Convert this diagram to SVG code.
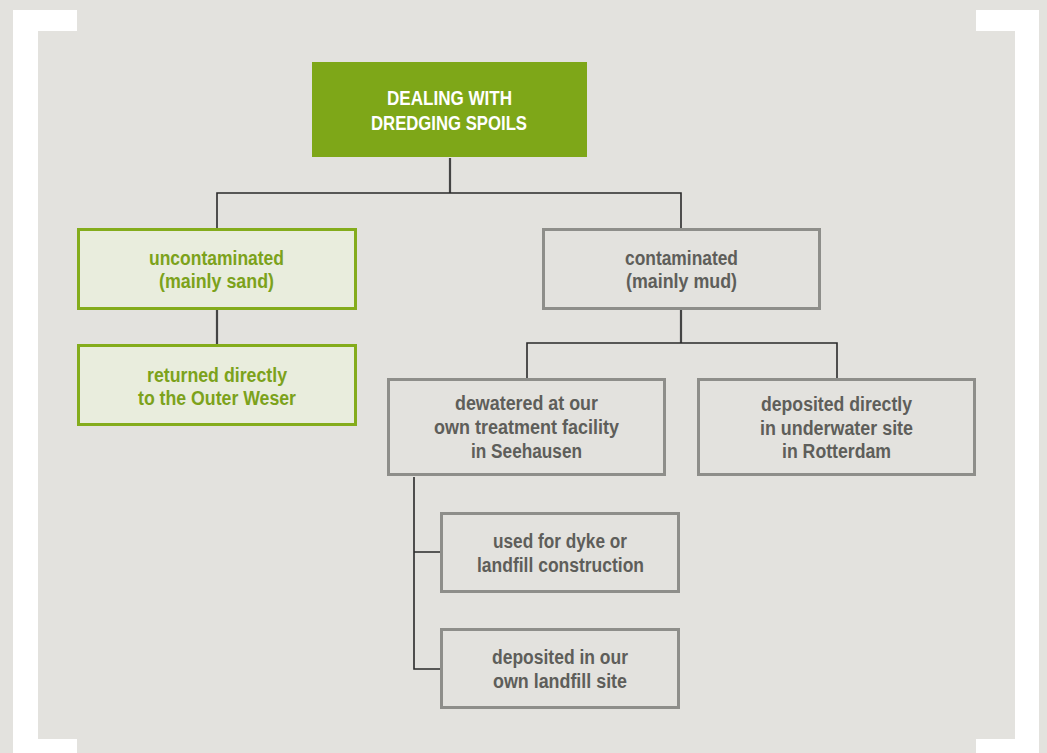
<svg xmlns="http://www.w3.org/2000/svg" width="1047" height="753" viewBox="0 0 1047 753">
<style>
.t{font-family:"Liberation Sans",Arial,sans-serif;font-size:20px;font-weight:bold;text-anchor:middle}
.tw{fill:#ffffff}
.tg{fill:#7CA21B}
.tk{fill:#5E5E5A}
.ng{fill:#E9EDDD;stroke:#84AC1C;stroke-width:3}
.nk{fill:#E3E2DE;stroke:#8E8E8A;stroke-width:3}
.c{fill:none;stroke:#2a2a2a;stroke-width:1.6}
.cv{fill:none;stroke:#444;stroke-width:2.2}
</style>
<rect x="0" y="0" width="1047" height="753" fill="#E3E2DE"/>
<g id="frame" fill="#ffffff">
<path d="M13 10H77V31H38V739H77V753H13Z"/>
<path d="M1039 10H976V31H1015V739H976V753H1039Z"/>
</g>
<g id="connectors">
<path class="cv" d="M450 158V193"/>
<path class="c" d="M217 228V193H681V228"/>
<path class="cv" d="M217 310V344"/>
<path class="cv" d="M681 310V343"/>
<path class="c" d="M527 378V343H837V378"/>
<path class="c" d="M414 477V669H441M414 552H441"/>
</g>
<g id="root">
<rect x="312" y="62" width="275" height="95" fill="#7EA718"/>
<text class="t tw" x="449.5" y="105" textLength="125" lengthAdjust="spacingAndGlyphs">DEALING WITH</text>
<text class="t tw" x="449" y="130" textLength="156" lengthAdjust="spacingAndGlyphs">DREDGING SPOILS</text>
</g>
<g id="uncontaminated">
<rect class="ng" x="78.5" y="229.5" width="277" height="79"/>
<text class="t tg" x="216.5" y="265" textLength="135" lengthAdjust="spacingAndGlyphs">uncontaminated</text>
<text class="t tg" x="216.5" y="288" textLength="115" lengthAdjust="spacingAndGlyphs">(mainly sand)</text>
</g>
<g id="returned">
<rect class="ng" x="78.5" y="345.5" width="277" height="79"/>
<text class="t tg" x="217" y="382" textLength="140" lengthAdjust="spacingAndGlyphs">returned directly</text>
<text class="t tg" x="217" y="405" textLength="158" lengthAdjust="spacingAndGlyphs">to the Outer Weser</text>
</g>
<g id="contaminated">
<rect class="nk" x="543.5" y="229.5" width="276" height="79"/>
<text class="t tk" x="681.5" y="265" textLength="113" lengthAdjust="spacingAndGlyphs">contaminated</text>
<text class="t tk" x="681.5" y="288" textLength="111" lengthAdjust="spacingAndGlyphs">(mainly mud)</text>
</g>
<g id="dewatered">
<rect class="nk" x="388.5" y="379.5" width="276" height="95"/>
<text class="t tk" x="526.5" y="410" textLength="143" lengthAdjust="spacingAndGlyphs">dewatered at our</text>
<text class="t tk" x="526.5" y="434" textLength="185" lengthAdjust="spacingAndGlyphs">own treatment facility</text>
<text class="t tk" x="526.5" y="458" textLength="111" lengthAdjust="spacingAndGlyphs">in Seehausen</text>
</g>
<g id="rotterdam">
<rect class="nk" x="698.5" y="379.5" width="276" height="95"/>
<text class="t tk" x="836.5" y="411" textLength="151" lengthAdjust="spacingAndGlyphs">deposited directly</text>
<text class="t tk" x="836.5" y="435" textLength="153" lengthAdjust="spacingAndGlyphs">in underwater site</text>
<text class="t tk" x="836.5" y="458" textLength="109" lengthAdjust="spacingAndGlyphs">in Rotterdam</text>
</g>
<g id="dyke">
<rect class="nk" x="441.5" y="513.5" width="237" height="78"/>
<text class="t tk" x="560" y="548" textLength="134" lengthAdjust="spacingAndGlyphs">used for dyke or</text>
<text class="t tk" x="560.5" y="572" textLength="167" lengthAdjust="spacingAndGlyphs">landfill construction</text>
</g>
<g id="landfill">
<rect class="nk" x="441.5" y="629.5" width="237" height="78"/>
<text class="t tk" x="560" y="664" textLength="136" lengthAdjust="spacingAndGlyphs">deposited in our</text>
<text class="t tk" x="560" y="688" textLength="134" lengthAdjust="spacingAndGlyphs">own landfill site</text>
</g>
</svg>
